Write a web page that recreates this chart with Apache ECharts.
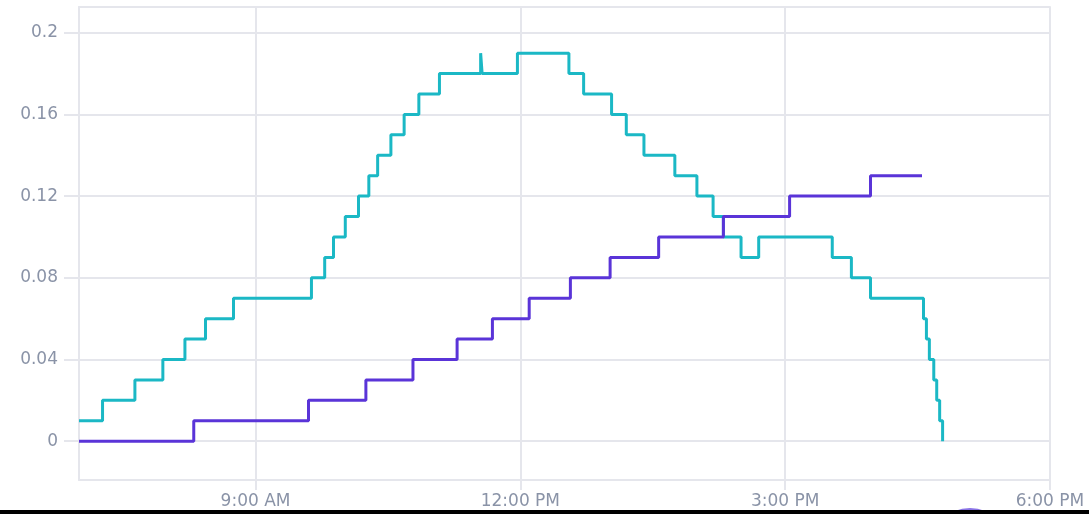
<!DOCTYPE html>
<html><head><meta charset="utf-8">
<script src="https://cdn.jsdelivr.net/npm/echarts@6/dist/echarts.min.js"></script>
<style>html,body{margin:0;padding:0;background:#fff}#c{width:1089px;height:514px}</style>
</head><body><div id="c"></div>
<script>
// Step points: time at which the value changes, and the new value
const tealTimes = ['07:00','07:16','07:38','07:57','08:12','08:26','08:45','09:38','09:47','09:53','10:01','10:10','10:17','10:23','10:32','10:41','10:51','11:05','11:33','11:34','11:58','12:33','12:43','13:02','13:12','13:24','13:45','14:00','14:11','14:18','14:30','14:42','15:32','15:45','15:58','16:34','16:36','16:38','16:41','16:43','16:45','16:47'];
const tealValues = [0.01,0.02,0.03,0.04,0.05,0.06,0.07,0.08,0.09,0.10,0.11,0.12,0.13,0.14,0.15,0.16,0.17,0.18,0.19,0.18,0.19,0.18,0.17,0.16,0.15,0.14,0.13,0.12,0.11,0.10,0.09,0.10,0.09,0.08,0.07,0.06,0.05,0.04,0.03,0.02,0.01,0.00];
const purpleTimes = ['07:00','08:18','09:36','10:15','10:47','11:17','11:41','12:06','12:34','13:01','13:34','14:18','15:03','15:58','16:33'];
const purpleValues = [0.00,0.01,0.02,0.03,0.04,0.05,0.06,0.07,0.08,0.09,0.10,0.11,0.12,0.13,0.13];
const xTickHours = [9,12,15,18];
const yTickValues = [0,0.04,0.08,0.12,0.16,0.2];

function toHours(t){const p=t.split(':').map(Number);return p[0]+p[1]/60;}
function hourLabel(h){const hh=Math.round(h);const ap=hh>=12?'PM':'AM';const d=hh%12===0?12:hh%12;return d+':00 '+ap;}
const tealData = tealTimes.map((t,i)=>[toHours(t),tealValues[i]]);
const purpleData = purpleTimes.map((t,i)=>[toHours(t),purpleValues[i]]);

const gridColor = '#e5e6ec';
const labelColor = '#8a93a7';
const chart = echarts.init(document.getElementById('c'), null, {renderer:'canvas'});
chart.setOption({
  animation:false,
  backgroundColor:'#ffffff',
  grid:{left:79,right:39,top:7,bottom:34,containLabel:false},
  xAxis:[{
    type:'value', position:'bottom', min:7, max:18, minInterval:3, maxInterval:3,
    axisLine:{show:true,onZero:false,lineStyle:{color:gridColor,width:2}},
    axisTick:{show:true,length:10,customValues:xTickHours,lineStyle:{color:gridColor,width:2}},
    axisLabel:{customValues:xTickHours,margin:13,color:labelColor,fontFamily:'DejaVu Sans',fontSize:17,
      formatter:v=>xTickHours.some(t=>Math.abs(t-v)<1e-6)?hourLabel(v):''},
    splitLine:{show:true,lineStyle:{color:gridColor,width:2}}
  },{
    type:'value', position:'top', min:7, max:18,
    axisLine:{show:true,onZero:false,lineStyle:{color:gridColor,width:2}},
    axisTick:{show:false}, axisLabel:{show:false}, splitLine:{show:false}
  }],
  yAxis:{
    type:'value', min:-0.019, max:0.2126, minInterval:0.04, maxInterval:0.04,
    axisLine:{show:true,onZero:false,lineStyle:{color:gridColor,width:2}},
    axisTick:{show:true,length:15,customValues:yTickValues,lineStyle:{color:gridColor,width:2}},
    axisLabel:{customValues:yTickValues,margin:21,color:labelColor,fontFamily:'DejaVu Sans',fontSize:17,
      formatter:v=>yTickValues.some(t=>Math.abs(t-v)<1e-6)?String(parseFloat(v.toFixed(2))):''},
    splitLine:{show:true,lineStyle:{color:gridColor,width:2}}
  },
  series:[
    {type:'line',name:'Teal',step:'end',data:tealData,showSymbol:false,symbol:'none',xAxisIndex:0,
      lineStyle:{color:'#1bb8c5',width:3},itemStyle:{color:'#1bb8c5'}},
    {type:'line',name:'Purple',step:'end',data:purpleData,showSymbol:false,symbol:'none',xAxisIndex:0,
      lineStyle:{color:'#5a34d8',width:3},itemStyle:{color:'#5a34d8'}}
  ],
  graphic:[
    {type:'circle',shape:{cx:970,cy:548,r:40},style:{fill:'#8a74e6'},z:100},
    {type:'rect',shape:{x:0,y:510,width:1089,height:4},style:{fill:'#000000'},z:101}
  ]
});
</script></body></html>
